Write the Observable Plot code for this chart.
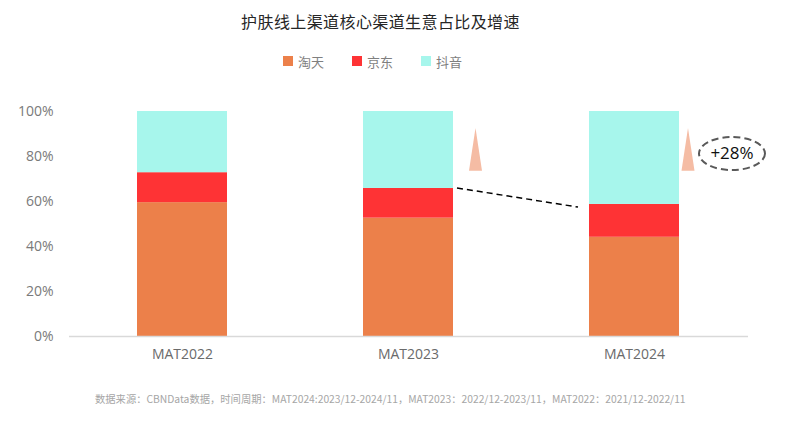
<!DOCTYPE html>
<html>
<head>
<meta charset="utf-8">
<script src="https://cdn.jsdelivr.net/npm/d3@7"></script>
<script src="https://cdn.jsdelivr.net/npm/@observablehq/plot@0.6"></script>
<style>
  body { margin: 0; background: #fff; width: 787px; font-family: "Noto Sans CJK SC", "Open Sans", sans-serif; }
  #title { height: 42px; line-height: 42px; text-align: center; font-size: 16px; color: #262626; padding-right: 26px; letter-spacing: 0.4px; }
  #legend { box-sizing: border-box; height: 42px; display: flex; justify-content: center; align-items: center; gap: 28px; padding-right: 42px; padding-bottom: 4px; font-size: 13px; color: #7f7f7f; }
  #legend .item { display: flex; align-items: center; gap: 5px; }
  #legend .sw { width: 10px; height: 10px; display: inline-block; }
  #note { height: 50px; line-height: 50px; padding-left: 95px; font-size: 10.3px; color: #a6a6a6; white-space: nowrap; }
</style>
</head>
<body>
<div id="title"></div>
<div id="legend"></div>
<div id="chart"></div>
<div id="note"></div>
<script>
const titleText = "护肤线上渠道核心渠道生意占比及增速";
const periods = ["MAT2022", "MAT2023", "MAT2024"];
const channels = ["淘天", "京东", "抖音"];
const colors = ["#ec804a", "#fe3335", "#a7f6ec"];
const taotian = [59.5, 52.6, 44.1];
const jd = [13.3, 13.2, 14.6];
const douyin = [27.2, 34.2, 41.3];
const yTicks = [0, 20, 40, 60, 80, 100];
const growthLabel = "+28%";
const noteText = "数据来源：CBNData数据，时间周期：MAT2024:2023/12-2024/11，MAT2023：2022/12-2023/11，MAT2022：2021/12-2022/11";

document.getElementById("title").textContent = titleText;
document.getElementById("note").textContent = noteText;
const legend = document.getElementById("legend");
channels.forEach((c, i) => {
  const it = document.createElement("span");
  it.className = "item";
  it.innerHTML = `<span class="sw" style="background:${colors[i]}"></span><span>${c}</span>`;
  legend.appendChild(it);
});

const series = [taotian, jd, douyin];
const rows = [];
channels.forEach((c, ci) => periods.forEach((p, pi) => rows.push({period: p, channel: c, value: series[ci][pi]})));

// annotation anchors (data units)
const arrowTop = 92.5, arrowBase = 73.4;
const lineStart = taotian[1] + jd[1], lineEnd = 57.3;
const ellipseY = 81.1;

function annotations(index, scales, values, dimensions) {
  const sx = scales.x, sy = scales.y;
  const bw = typeof sx.bandwidth === "function" ? sx.bandwidth() : sx.bandwidth;
  const g = d3.create("svg:g");
  // dashed connector
  g.append("line")
    .attr("x1", sx("MAT2023") + bw + 4).attr("y1", sy(lineStart))
    .attr("x2", sx("MAT2024") - 11).attr("y2", sy(lineEnd))
    .attr("stroke", "#000").attr("stroke-width", 1.5).attr("stroke-dasharray", "6,4");
  // triangles
  [["MAT2023", 22.5], ["MAT2024", 9]].forEach(([p, off]) => {
    const cx = sx(p) + bw + off;
    g.append("path")
      .attr("d", `M${cx},${sy(arrowTop)}L${cx + 6.5},${sy(arrowBase)}L${cx - 6.5},${sy(arrowBase)}Z`)
      .attr("fill", "#f5bca4");
  });
  // ellipse with label
  const ex = sx("MAT2024") + bw + 53;
  g.append("ellipse")
    .attr("cx", ex).attr("cy", sy(ellipseY)).attr("rx", 33).attr("ry", 16.5)
    .attr("fill", "none").attr("stroke", "#595959").attr("stroke-width", 2).attr("stroke-dasharray", "7,4");
  g.append("text")
    .attr("x", ex).attr("y", sy(ellipseY)).attr("dy", "0.35em")
    .attr("text-anchor", "middle").attr("font-size", 17).attr("fill", "#111")
    .attr("font-family", "'Open Sans', sans-serif")
    .text(growthLabel);
  return g.node();
}

const chart = Plot.plot({
  width: 787,
  height: 290,
  marginLeft: 69,
  marginRight: 39,
  marginTop: 27,
  marginBottom: 38,
  style: {fontFamily: "'Open Sans', 'Noto Sans CJK SC', sans-serif", fontSize: "14px", background: "#fff"},
  x: {domain: periods, paddingInner: 0.6, paddingOuter: 0.3, label: null},
  y: {domain: [0, 100], label: null},
  color: {domain: channels, range: colors},
  marks: [
    Plot.barY(rows, {x: "period", y: "value", fill: "channel"}),
    Plot.ruleY([0], {stroke: "#d9d9d9", strokeWidth: 1.5}),
    Plot.axisY({ticks: yTicks, tickFormat: d => d + "%", tickSize: 0, tickPadding: 16, fill: "#7a7a7a", label: null}),
    Plot.axisX({tickSize: 0, tickPadding: 13, fill: "#6a6a6a", label: null}),
    annotations
  ]
});
document.getElementById("chart").appendChild(chart);
</script>
</body>
</html>
